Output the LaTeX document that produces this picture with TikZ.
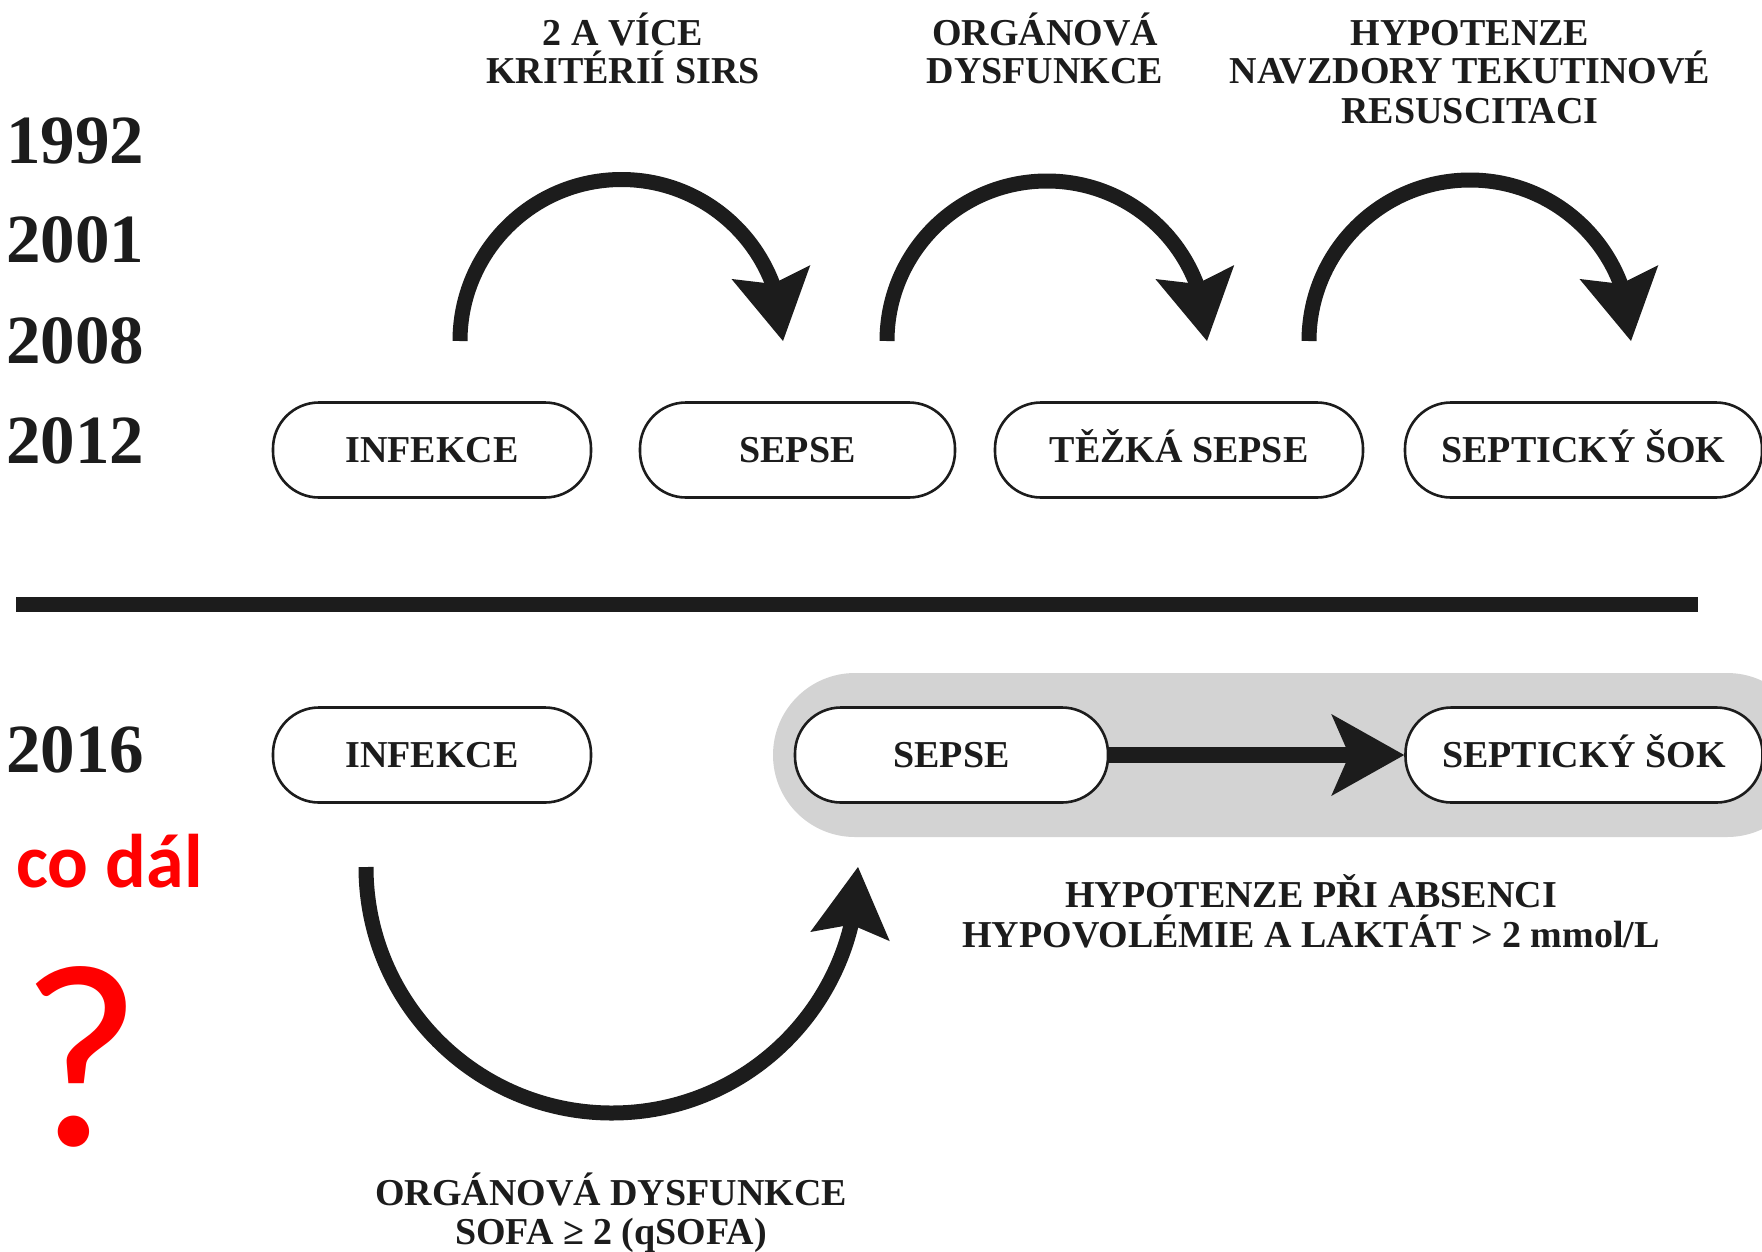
\documentclass[tikz,border=0pt]{standalone}
\usepackage{fontspec}
\setmainfont{Liberation Serif}
\newfontfamily\notefont{Carlito}
\usetikzlibrary{arrows.meta,bending}

\definecolor{ink}{RGB}{28,28,28}
\definecolor{bandgray}{RGB}{211,211,211}
\definecolor{alertred}{RGB}{255,0,0}

\begin{document}
\begin{tikzpicture}[x=1pt,y=1pt,
  stage/.style={draw=ink, line width=2.6pt, fill=white, rounded corners=46pt,
    minimum height=95pt, inner sep=0pt, text height=25pt, text depth=0pt,
    font=\fontsize{38}{39}\selectfont\bfseries, text=ink},
  year/.style={anchor=base west, inner sep=0pt,
    font=\fontsize{69}{69}\selectfont\bfseries, text=ink},
  caption/.style={anchor=base, inner sep=0pt,
    font=\fontsize{38}{39}\selectfont\bfseries, text=ink},
  bigarc/.style={draw=ink, line width=15pt,
    -{Stealth[length=70pt, width=80pt, inset=12pt, line width=0pt, flex]}},
  flatarrow/.style={draw=ink, line width=16pt,
    -{Stealth[length=73pt, width=82pt, inset=18pt, line width=0pt]}},
  rednote/.style={inner sep=0pt, text=alertred}
]
% page frame
\clip (0,0) rectangle (1762,-1251);
\fill[white] (0,0) rectangle (1762,-1251);

% years
\node[year] (y1992) at (6,-163) {1992};
\node[year] (y2001) at (6,-262) {2001};
\node[year] (y2008) at (6,-363) {2008};
\node[year] (y2012) at (6,-463) {2012};
\node[year] (y2016) at (6,-772) {2016};

% criteria above the arcs
\node[caption] (c1a) at (623,-45) {2 A VÍCE};
\node[caption] (c1b) at (623,-83) {KRITÉRIÍ SIRS};
\node[caption] (c2a) at (1045,-45) {ORGÁNOVÁ};
\node[caption] (c2b) at (1045,-83) {DYSFUNKCE};
\node[caption] (c3a) at (1470,-45) {HYPOTENZE};
\node[caption] (c3b) at (1470,-83) {NAVZDORY TEKUTINOVÉ};
\node[caption] (c3c) at (1470,-123) {RESUSCITACI};

% curved arrows of the old definitions
\coordinate (a1) at (460,-341);
\coordinate (a2) at (887,-341);
\coordinate (a3) at (1309,-341);
\draw[bigarc] (a1) arc[start angle=180, end angle=0, radius=161.5];
\draw[bigarc] (a2) arc[start angle=180, end angle=0, radius=160];
\draw[bigarc] (a3) arc[start angle=180, end angle=0, radius=161];

% stages until 2012
\node[stage, minimum width=318pt] (inf1) at (432,-450) {INFEKCE};
\node[stage, minimum width=315pt] (sep1) at (797.5,-450) {SEPSE};
\node[stage, minimum width=368pt] (tez1) at (1179,-450) {TĚŽKÁ SEPSE};
\node[stage, minimum width=357pt] (sok1) at (1583.5,-450) {SEPTICKÝ ŠOK};

% divider
\coordinate (divL) at (16,-604.5);
\coordinate (divR) at (1698,-604.5);
\draw[ink, line width=15pt] (divL) -- (divR);

% Sepsis-3 band
\fill[bandgray, rounded corners=82pt] (773,-673) rectangle (1809,-837);

% stages 2016
\node[stage, minimum width=318pt] (inf2) at (432,-755) {INFEKCE};
\node[stage, minimum width=313pt] (sep2) at (951.5,-755) {SEPSE};
\node[stage, minimum width=357pt] (sok2) at (1584,-755) {SEPTICKÝ ŠOK};
\draw[flatarrow] (sep2) -- (sok2);

\node[caption] (c4a) at (1311,-907) {HYPOTENZE PŘI ABSENCI};
\node[caption] (c4b) at (1311,-947) {HYPOVOLÉMIE A LAKTÁT > 2 mmol/L};

% lower arc from infection to sepsis
\coordinate (a4) at (366,-867);
\draw[bigarc] (a4) arc[start angle=180, end angle=360, radius=246];

\node[caption] (c5a) at (611,-1205) {ORGÁNOVÁ DYSFUNKCE};
\node[caption] (c5b) at (611,-1244) {SOFA ≥ 2 (qSOFA)};

% note in red
\node[rednote, anchor=base west, font=\notefont\bfseries\fontsize{76}{76}\selectfont] (codal) at (16,-887) {co dál};
\node[rednote, anchor=base, font=\notefont\fontsize{262}{262}\selectfont] (qmark) at (81,-1145) {?};
\end{tikzpicture}
\end{document}
